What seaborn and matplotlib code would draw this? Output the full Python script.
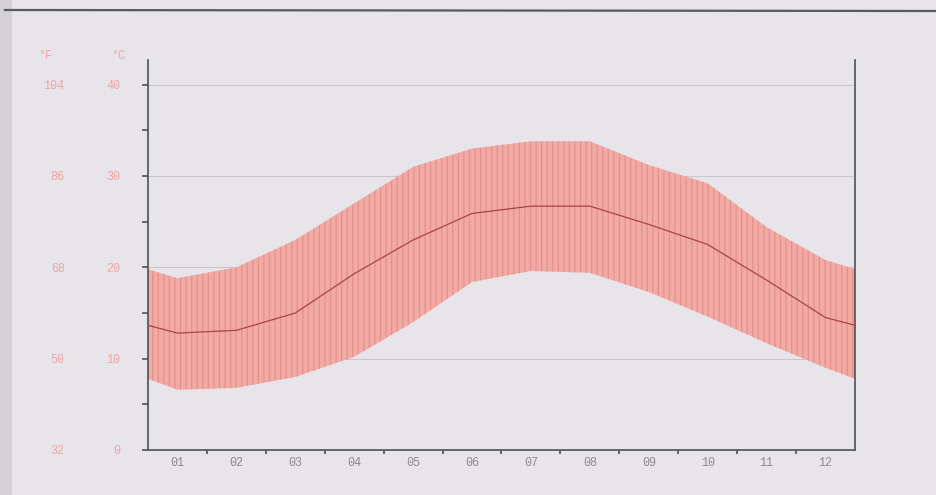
import numpy as np
import pandas as pd
import matplotlib
matplotlib.use("Agg")
import matplotlib.pyplot as plt
from matplotlib.lines import Line2D
from matplotlib.patches import Rectangle
import seaborn as sns

# ---- data ----
months = ["01", "02", "03", "04", "05", "06", "07", "08", "09", "10", "11", "12"]
t_max = [18.8, 20.0, 23.0, 27.0, 31.0, 33.0, 33.8, 33.8, 31.2, 29.2, 24.4, 20.8]
t_mean = [12.8, 13.1, 15.0, 19.3, 23.0, 25.9, 26.7, 26.7, 24.7, 22.5, 18.6, 14.5]
t_min = [6.6, 6.8, 8.0, 10.2, 14.0, 18.4, 19.6, 19.4, 17.3, 14.6, 11.7, 9.0]
c_ticks = [0, 10, 20, 30, 40]
f_ticks = [32, 50, 68, 86, 104]

BG = "#e7e4ea"
FILL = "#f2aaa4"
STRIPE = "#e5918c"
LINE = "#a84545"
PINK_TXT = "#eda5a3"
GRAY_TXT = "#8c8a90"
AXIS = "#505055"

sns.set_theme(style="white")
plt.rcParams["hatch.linewidth"] = 0.9

fig = plt.figure(figsize=(9.37, 4.95), dpi=100)
fig.patch.set_facecolor(BG)
ax = fig.add_axes([148 / 937, 1 - 450 / 495, (855 - 148) / 937, (450 - 60) / 495])
ax.set_facecolor(BG)

# cyclic extension so the band reaches both edges of the year
n = len(months)
pos = np.arange(n) + 0.5
x_ext = np.r_[pos[0] - 1, pos, pos[-1] + 1]
def wrap(v):
    return np.r_[v[-1], v, v[0]]

df = pd.DataFrame({"x": x_ext, "tmax": wrap(t_max), "tmean": wrap(t_mean), "tmin": wrap(t_min)})

for yv in c_ticks[1:]:
    ax.axhline(yv, color="#c9c6cd", lw=0.8, zorder=0)

ax.fill_between(df["x"], df["tmin"], df["tmax"], facecolor=FILL, edgecolor="none", lw=0, zorder=1)
ax.fill_between(df["x"], df["tmin"], df["tmax"], facecolor="none", edgecolor=STRIPE, lw=0,
                hatch="|||", zorder=2)
sns.lineplot(data=df, x="x", y="tmean", color=LINE, lw=0.9, ax=ax, zorder=3)

ax.set_xlim(0, n)
ax.set_ylim(0, 42.7)
ax.set_xlabel("")
ax.set_ylabel("")

# x axis
ax.set_xticks(pos)
ax.set_xticklabels(months, fontfamily="Liberation Mono", fontsize=8.5, color=GRAY_TXT)
ax.set_xticks(np.arange(1, n), minor=True)
ax.tick_params(axis="x", which="major", length=0, pad=5)
ax.tick_params(axis="x", which="minor", length=3, width=1.2, color=AXIS, direction="out", bottom=True)

# y axis (°C)
ax.set_yticks(c_ticks)
ax.set_yticklabels([str(v) for v in c_ticks], fontfamily="Liberation Mono", fontsize=8.5, color=PINK_TXT)
ax.set_yticks([5, 15, 25, 35], minor=True)
ax.tick_params(axis="y", which="both", left=True, length=4, width=1.2, color=AXIS, direction="out", pad=16)

for side in ["left", "right", "bottom"]:
    ax.spines[side].set_visible(True)
    ax.spines[side].set_color(AXIS)
    ax.spines[side].set_linewidth(1.2)
ax.spines["top"].set_visible(False)

# °F secondary axis
sec = ax.secondary_yaxis(-0.11, functions=(lambda c: c * 9 / 5 + 32, lambda f: (f - 32) * 5 / 9))
sec.set_yticks(f_ticks)
sec.set_yticklabels([str(v) for v in f_ticks], fontfamily="Liberation Mono", fontsize=8.5, color=PINK_TXT)
sec.tick_params(length=0, pad=4)
sec.spines["left"].set_visible(False)

# unit headers
trans = matplotlib.transforms.blended_transform_factory(fig.transFigure, ax.transAxes)
ax.text(118 / 937, 1.01, "°C", transform=trans, ha="center", va="center",
        fontfamily="Liberation Mono", fontsize=8.5, color=PINK_TXT)
ax.text(45 / 937, 1.01, "°F", transform=trans, ha="center", va="center",
        fontfamily="Liberation Mono", fontsize=8.5, color=PINK_TXT)

# scan edges
fig.add_artist(Line2D([0.005, 1.0], [1 - 10 / 495, 1 - 11 / 495], transform=fig.transFigure,
                      color="#5a595e", lw=1.6))
fig.add_artist(Rectangle((0, 0), 12 / 937, 1, transform=fig.transFigure, color="#d3d1d7", lw=0, zorder=-1))

fig.savefig("out.png", dpi=100, facecolor=BG)
